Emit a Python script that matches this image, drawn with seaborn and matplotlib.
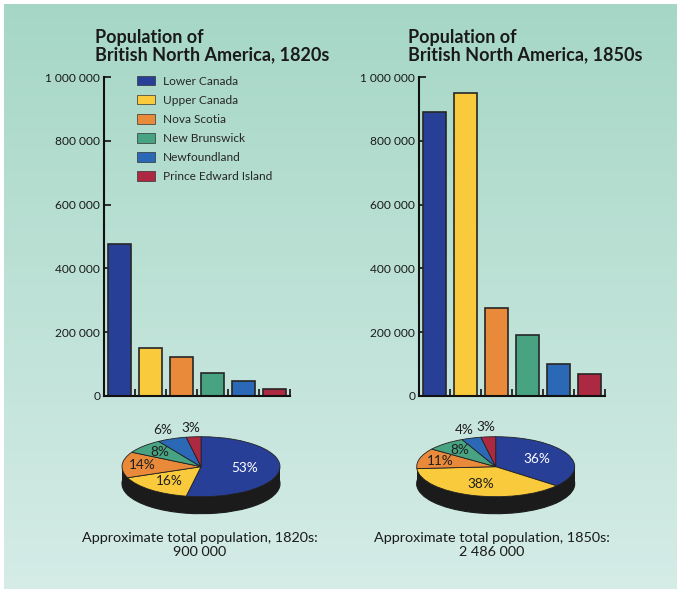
import numpy as np
import matplotlib
matplotlib.use("Agg")
import matplotlib.pyplot as plt
from matplotlib.patches import Rectangle, Patch
import seaborn as sns

# data
colonies = ["Lower Canada", "Upper Canada", "Nova Scotia", "New Brunswick",
            "Newfoundland", "Prince Edward Island"]
pop_1820s = [477000, 149000, 122000, 71000, 48000, 23000]
pop_1850s = [889000, 950000, 276000, 192000, 100000, 70000]
share_1820s = [53, 16, 14, 8, 6, 3]
share_1850s = [36, 38, 11, 8, 4, 3]
total_1820s = "900 000"
total_1850s = "2 486 000"
yticks = [0, 200000, 400000, 600000, 800000, 1000000]

colors = ["#283f98", "#f8ca3c", "#e98a3b", "#48a382", "#2b69b6", "#ad2841"]

sns.set_style("ticks")
plt.rcParams["font.family"] = ["Lato", "DejaVu Sans"]

W, H = 682, 596
fig = plt.figure(figsize=(W / 100, H / 100), dpi=100)


def rect(x0, y0, x1, y1):
    # pixel box (top-left origin) -> figure fraction
    return [x0 / W, (H - y1) / H, (x1 - x0) / W, (y1 - y0) / H]


# background with black frame and teal gradient
bg = fig.add_axes([0, 0, 1, 1], zorder=-10)
bg.set_facecolor("black")
top = np.array([0.650, 0.843, 0.776])
bot = np.array([0.835, 0.925, 0.905])
t = np.linspace(0, 1, 256)[:, None, None]
grad = top * (1 - t) + bot * t
bg.imshow(grad, extent=(4, 677, 589, 4), aspect="auto")
bg.set_xlim(0, W)
bg.set_ylim(H, 0)
bg.axis("off")


def fmt(v):
    return f"{v:,}".replace(",", " ")


def bar_panel(box, values):
    ax = fig.add_axes(rect(*box))
    ax.patch.set_alpha(0)
    sns.barplot(x=colonies, y=values, hue=colonies, palette=colors,
                legend=False, width=0.75, edgecolor="#262626",
                linewidth=1.2, saturation=1, ax=ax)
    ax.set_xlim(-0.5, 5.5)
    ax.set_ylim(0, 1000000)
    ax.set_xticks(np.arange(6) + 0.5)
    ax.set_xticklabels([])
    ax.set_yticks(yticks)
    ax.set_yticklabels([fmt(v) for v in yticks], fontsize=8.6, color="#1a1a1a")
    ax.tick_params(axis="x", direction="in", length=5, width=1.2, color="#111")
    ax.tick_params(axis="y", direction="in", length=5, width=1.2,
                   color="#111", pad=3)
    ax.set_xlabel("")
    ax.set_ylabel("")
    for s in ["top", "right"]:
        ax.spines[s].set_visible(False)
    for s in ["left", "bottom"]:
        ax.spines[s].set_linewidth(1.5)
        ax.spines[s].set_color("#111")
    return ax


ax1 = bar_panel((104.3, 77, 290, 396), pop_1820s)
ax2 = bar_panel((419.3, 77, 605, 396), pop_1850s)

handles = [Patch(facecolor=c, edgecolor="#333", linewidth=0.5) for c in colors]
ax1.legend(handles, colonies, loc="upper left", bbox_to_anchor=(0.176, 1.004),
           frameon=False, fontsize=8.6, handlelength=1.5, handleheight=0.85,
           handletextpad=0.65, labelspacing=0.68, borderaxespad=0, borderpad=0)


def pie_panel(cx, cy, shares, dists):
    rx, ry = 79, 30
    depth = 17 / ry
    ax = fig.add_axes(rect(cx - 1.3 * rx, cy - 1.6 * ry, cx + 1.3 * rx, cy + 2.0 * ry))
    ax.patch.set_alpha(0)
    ax.pie(shares, colors=["#1b1b1b"] * 6, startangle=90, counterclock=False,
           center=(0, -depth), wedgeprops=dict(edgecolor="#1b1b1b", linewidth=0.8))
    ax.add_patch(Rectangle((-1, -depth), 2, depth, facecolor="#1b1b1b",
                           edgecolor="none"))
    wedges, _, autos = ax.pie(shares, colors=colors, startangle=90,
                              counterclock=False, autopct=lambda p: f"{p:.0f}%",
                              wedgeprops=dict(edgecolor="#222", linewidth=0.6))
    for i, (w, a) in enumerate(zip(wedges, autos)):
        ang = np.deg2rad((w.theta1 + w.theta2) / 2)
        a.set_position((dists[i] * np.cos(ang), dists[i] * np.sin(ang)))
        a.set_fontsize(9.8)
        a.set_color("white" if i == 0 else "#1e1e1e")
    ax.set_xlim(-1.3, 1.3)
    ax.set_ylim(-2.0, 1.6)
    ax.set_aspect("auto")
    ax.axis("off")
    return ax


pie_panel(201, 466.7, share_1820s, [0.55, 0.62, 0.75, 0.72, 1.3, 1.3])
pie_panel(495.7, 466.7, share_1850s, [0.58, 0.62, 0.73, 0.72, 1.27, 1.32])

# titles
for x, dec in [(95, "1820s"), (408, "1850s")]:
    fig.text(x / W, 1 - 29 / H, f"Population of\nBritish North America, {dec}",
             ha="left", va="top", fontsize=13, fontweight="bold",
             color="#1a1a1a", linespacing=1.0)

# totals under the pies
for x, dec, tot in [(200, "1820s", total_1820s), (492, "1850s", total_1850s)]:
    fig.text(x / W, 1 - 545 / H, f"Approximate total population, {dec}:\n{tot}",
             ha="center", va="center", fontsize=10.4, color="#1a1a1a",
             linespacing=1.1)

fig.savefig("out.png", dpi=100)
